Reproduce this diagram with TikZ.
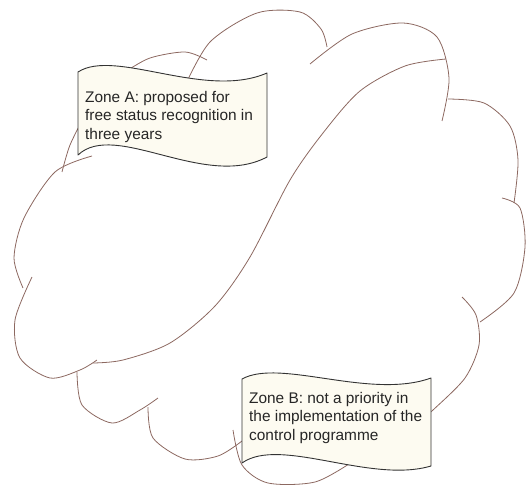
\documentclass[tikz,border=0pt]{standalone}
\usepackage{fontspec}
\setmainfont{Liberation Sans}
\definecolor{cloudbrown}{RGB}{140,104,96}
\definecolor{notecream}{RGB}{253,251,241}
\tikzset{
  cloudline/.style={draw=cloudbrown, line width=0.8pt},
  notebox/.style={draw=black!80, fill=notecream, line width=0.9pt, line join=round},
  notetext/.style={anchor=north west, inner sep=0pt, align=left,
    font=\fontsize{15.4}{18.5}\selectfont, text=black!85}
}
\begin{document}
\begin{tikzpicture}[x=1pt, y=-1pt]
    \useasboundingbox (0,0) rectangle (526,486);
    % lobes of the cloud
    \draw[cloudline] plot[smooth] coordinates {(184,88) (210,42) (257,13) (300,12) (321,29) (327,47)};
    \draw[cloudline] plot[smooth] coordinates {(310,64) (352,34) (403,23) (437,37) (449,78) (442,121)};
    \draw[cloudline] plot[smooth] coordinates {(448,99) (484,103) (510,126) (518,160) (514,203)};
    \draw[cloudline] plot[smooth] coordinates {(502,198) (520,208) (525,247) (514,293) (480,322)};
    \draw[cloudline] plot[smooth] coordinates {(462,297) (476,315) (479,345) (465,378) (433,410) (425,416)};
    \draw[cloudline] plot[smooth] coordinates {(233,430) (242,465) (268,483) (315,482) (352,462)};
    \draw[cloudline] plot[smooth] coordinates {(148,407) (153,438) (185,459) (218,456) (242,441)};
    \draw[cloudline] plot[smooth] coordinates {(77,372) (82,405) (112,423) (140,410) (158,398)};
    \draw[cloudline] plot[smooth] coordinates {(32,277) (15,320) (20,358) (50,378) (80,370) (97,360)};
    \draw[cloudline] plot[smooth] coordinates {(92,156) (55,172) (24,218) (14,258) (23,288)};
    \draw[cloudline] plot[smooth] coordinates {(62,172) (70,145) (85,115)};
    \draw[cloudline] plot[smooth] coordinates {(125,72) (150,58) (185,52) (207,60)};
    % dividing line
    \draw[cloudline] plot[smooth] coordinates {(446,59) (405,66) (360,91) (323,133) (290,180) (250,257) (215,306) (170,343) (123,360) (93,363)};
    % notes
    \draw[notebox] (78,72) .. controls (115,48) and (205,100) .. (267,73) -- (267,157) .. controls (205,190) and (115,120) .. (78,155) -- cycle;
    \node[notetext] (zoneA) at (85,90.7) {Zone A: proposed for\\free status recognition in\\three years};
    \draw[notebox] (242,379) .. controls (280,358) and (370,400) .. (431,378) -- (431,466) .. controls (370,484) and (280,436) .. (242,463) -- cycle;
    \node[notetext] (zoneB) at (249,391.7) {Zone B: not a priority in\\the implementation of the\\control programme};
\end{tikzpicture}
\end{document}
